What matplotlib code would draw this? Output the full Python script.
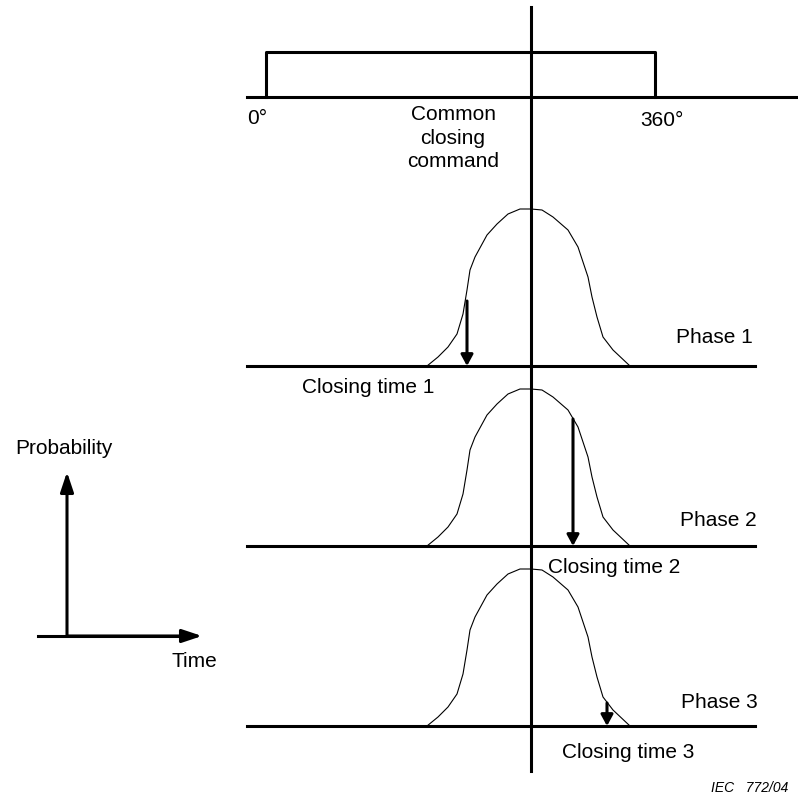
import numpy as np
import matplotlib.pyplot as plt

plt.rcParams['font.family'] = ['Liberation Sans', 'DejaVu Sans']

# shape of the probability curve (offset from command line, height above baseline), in px
curve_dx = [-104, -93, -83, -74, -68, -64, -61, -56, -44, -34, -23, -11, 0,
            11, 22, 37, 47, 57, 61, 66, 72, 82, 99]
curve_h = [0, 9, 19, 32, 52, 76, 96, 109, 131, 142, 152, 157, 157,
           156, 149, 136, 119, 89, 69, 49, 29, 16, 0]

phases = ["Phase 1", "Phase 2", "Phase 3"]
closing_labels = ["Closing time 1", "Closing time 2", "Closing time 3"]
baselines = [367, 547, 727]
closing_x = [467, 573, 607]
arrow_h = [65, 127, 23]
phase_label_pos = [(753, 338), (757, 521), (758, 703)]
closing_label_pos = [(302, 388), (548, 568), (562, 753)]

cmd_x = 531
pulse_start, pulse_end = 266, 655

fig = plt.figure(figsize=(7.98, 8.12), dpi=100)
ax = fig.add_axes([0, 0, 1, 1])
ax.set_xlim(0, 798)
ax.set_ylim(812, 0)
ax.axis('off')

lw = 2.2
fs = 15

# command line
ax.plot([cmd_x, cmd_x], [8, 772], c='k', lw=lw)

# top pulse 0..360 deg
ax.plot([247, 796], [98, 98], c='k', lw=lw)
ax.plot([pulse_start, pulse_start, pulse_end, pulse_end], [98, 53, 53, 98], c='k', lw=lw)
ax.text(247, 118, "0°", fontsize=fs, va='center', ha='left')
ax.text(640, 120, "360°", fontsize=fs, va='center', ha='left')
ax.text(453, 138, "Common\nclosing\ncommand", fontsize=fs, va='center', ha='center',
        linespacing=1.3)

for i in range(3):
    y0 = baselines[i]
    ax.plot([247, 755], [y0, y0], c='k', lw=lw)
    ax.plot(cmd_x + np.array(curve_dx), y0 - np.array(curve_h), c='k', lw=0.8)
    ax.annotate('', xy=(closing_x[i], y0), xytext=(closing_x[i], y0 - arrow_h[i]),
                arrowprops=dict(arrowstyle='-|>,head_length=0.33,head_width=0.18',
                                lw=lw, color='k', mutation_scale=20,
                                shrinkA=0, shrinkB=0))
    ax.text(*phase_label_pos[i], phases[i], fontsize=fs, va='center', ha='right')
    ax.text(*closing_label_pos[i], closing_labels[i], fontsize=fs, va='center', ha='left')

# legend axes
ax.plot([38, 190], [637, 637], c='k', lw=lw)
ax.annotate('', xy=(67, 473), xytext=(67, 637),
            arrowprops=dict(arrowstyle='-|>,head_length=0.6,head_width=0.2',
                            lw=lw, color='k', mutation_scale=20, shrinkA=0, shrinkB=0))
ax.annotate('', xy=(202, 637), xytext=(67, 637),
            arrowprops=dict(arrowstyle='-|>,head_length=0.6,head_width=0.2',
                            lw=lw, color='k', mutation_scale=20, shrinkA=0, shrinkB=0))
ax.text(15, 449, "Probability", fontsize=fs, va='center', ha='left')
ax.text(172, 662, "Time", fontsize=fs, va='center', ha='left')

ax.text(788, 788, "IEC   772/04", fontsize=10, style='italic', va='center', ha='right')

plt.savefig("out.png", dpi=100)
